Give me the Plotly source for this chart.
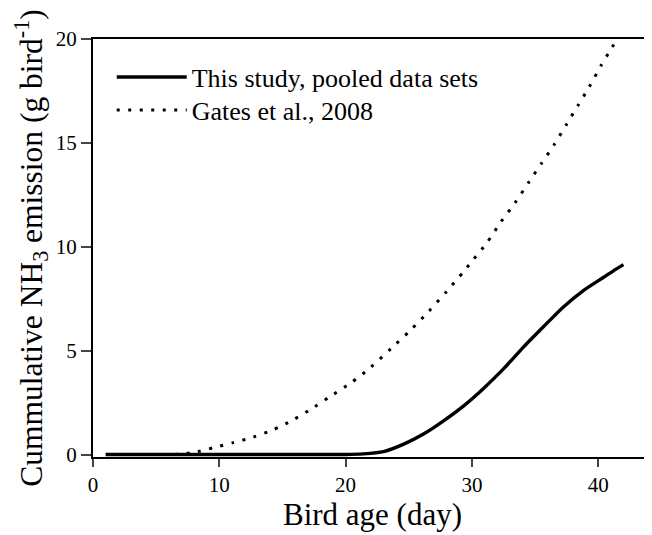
import plotly.graph_objects as go

# Data
study_x = [1, 5, 10, 15, 20, 21.4, 23.0, 24.6, 26.2, 27.7, 29.3, 30.9, 32.5, 34.1, 35.7, 37.2, 38.8, 40.4, 41.2, 42]
study_y = [0, 0, 0, 0, 0.0, 0.03, 0.14, 0.5, 1.0, 1.6, 2.32, 3.17, 4.12, 5.18, 6.17, 7.08, 7.88, 8.52, 8.84, 9.14]

gates_x = [6.5, 8, 9.5, 11.1, 12.7, 14.3, 15.8, 17.3, 18.8, 20.5, 22.0, 23.6, 25.1, 26.6, 28.0, 29.3,
           30.0, 31.2, 32.3, 33.4, 34.5, 35.5, 36.5, 37.5, 38.4, 39.3, 40.2, 41.0, 41.4]
gates_y = [0.0, 0.1, 0.32, 0.57, 0.84, 1.2, 1.65, 2.2, 2.8, 3.48, 4.2, 5.1, 5.96, 6.9, 7.85, 8.77,
           9.3, 10.2, 11.2, 12.1, 13.1, 14.0, 14.9, 15.9, 16.8, 17.7, 18.7, 19.5, 19.9]

x_ticks = [0, 10, 20, 30, 40]
y_ticks = [0, 5, 10, 15, 20]

FONT = "Liberation Serif"

fig = go.Figure()
fig.add_trace(go.Scatter(x=study_x, y=study_y, mode="lines", name="This study, pooled data sets",
                         legend="legend",
                         line=dict(color="black", width=3.4, shape="spline", smoothing=0.6)))
fig.add_trace(go.Scatter(x=gates_x, y=gates_y, mode="lines", name="Gates et al., 2008",
                         legend="legend2",
                         line=dict(color="black", width=3, dash="3px,8.5px", shape="spline", smoothing=0.6)))

legend_common = dict(x=0.0335, xanchor="left", yanchor="middle", bgcolor="rgba(0,0,0,0)",
                     font=dict(size=26, family=FONT, color="black"), itemwidth=70)

fig.update_layout(
    width=644, height=527,
    margin=dict(l=85, r=0, t=31, b=77.5),
    paper_bgcolor="white", plot_bgcolor="white",
    font=dict(family=FONT, color="black"),
    showlegend=True,
    legend=dict(y=0.909, **legend_common),
    legend2=dict(y=0.830, **legend_common),
    xaxis=dict(range=[0, 44.26], tickvals=x_ticks, ticks="outside", ticklen=8, tickwidth=2,
               showline=True, linewidth=2, linecolor="black", mirror=True, showgrid=False,
               zeroline=False, tickfont=dict(size=21, family=FONT), automargin=False,
               title=dict(text="Bird age (day)", font=dict(size=31, family=FONT), standoff=7)),
    yaxis=dict(range=[-0.12, 20], tickvals=y_ticks, ticks="outside", ticklen=10, tickwidth=2,
               showline=True, linewidth=2, linecolor="black", mirror=False, showgrid=False,
               zeroline=False, tickfont=dict(size=21, family=FONT), automargin=False,
               title=dict(text="Cummulative NH<sub>3</sub> emission (g bird<sup>-1</sup>)",
                          font=dict(size=31.5, family=FONT), standoff=4)),
)

fig.write_html("out.html")
